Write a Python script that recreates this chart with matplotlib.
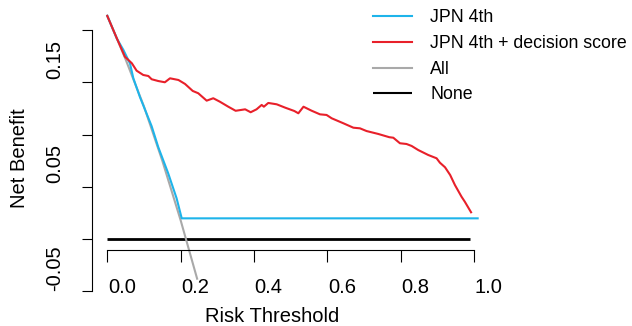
import matplotlib
matplotlib.use("Agg")
import matplotlib.pyplot as plt
import numpy as np

plt.rcParams['font.family'] = ['Liberation Sans', 'DejaVu Sans']

# decision curve values
thr_jpn = [0.0, 0.026, 0.044, 0.062, 0.071, 0.089, 0.121, 0.139, 0.166, 0.189, 0.203, 1.01]
nb_jpn = [0.2136, 0.192, 0.181, 0.168, 0.154, 0.136, 0.108, 0.088, 0.063, 0.039, 0.0198, 0.0198]

thr_ds = [0.0, 0.026, 0.048, 0.067, 0.080, 0.098, 0.112, 0.121, 0.139, 0.157, 0.171, 0.194,
          0.212, 0.233, 0.248, 0.271, 0.289, 0.307, 0.330, 0.350, 0.376, 0.391, 0.407, 0.421,
          0.427, 0.439, 0.462, 0.485, 0.510, 0.521, 0.535, 0.557, 0.580, 0.598, 0.612, 0.644,
          0.671, 0.689, 0.707, 0.739, 0.769, 0.780, 0.798, 0.816, 0.830, 0.848, 0.875, 0.898,
          0.907, 0.921, 0.935, 0.948, 0.966, 0.975, 0.992]
nb_ds = [0.2136, 0.1922, 0.1746, 0.1683, 0.1612, 0.1571, 0.1561, 0.1530, 0.1513, 0.1501, 0.1539, 0.1523,
         0.1485, 0.1418, 0.1396, 0.1325, 0.1348, 0.1315, 0.1267, 0.1228, 0.1242, 0.1214, 0.1242, 0.1284,
         0.1267, 0.1303, 0.1290, 0.1258, 0.1226, 0.1204, 0.1267, 0.1229, 0.1194, 0.1188, 0.1156, 0.1108,
         0.1066, 0.1060, 0.1034, 0.1006, 0.0975, 0.0970, 0.0917, 0.0910, 0.0891, 0.0852, 0.0805, 0.0773,
         0.0731, 0.0687, 0.0613, 0.0517, 0.0405, 0.0357, 0.0256]

thr_all = [0.0, 0.05, 0.10, 0.15, 0.20, 0.245]
nb_all = [0.214, 0.172, 0.127, 0.075, 0.018, -0.038]

thr_none = [0.0, 0.99]
nb_none = [0.0, 0.0]

labels = ['JPN 4th', 'JPN 4th + decision score', 'All', 'None']
x_ticks = [0.0, 0.2, 0.4, 0.6, 0.8, 1.0]
y_ticks = [-0.05, 0.0, 0.05, 0.10, 0.15, 0.20]
y_labels = ['-0.05', '0.05', '0.15']
y_label_vals = [-0.05, 0.05, 0.15]

W, H = 632, 326
fig = plt.figure(figsize=(W / 100, H / 100), dpi=100)
# axes box in pixels: left 80, right 500, top 5, bottom 300
ax = fig.add_axes([80 / W, (H - 300) / H, 420 / W, 295 / H])
ax.set_xlim(-0.0744, 1.0709)
ax.set_ylim(-0.0584, 0.2241)

ax.plot(thr_none, nb_none, color='black', lw=2.0, solid_capstyle='butt', label=labels[3])
ax.plot(thr_all, nb_all, color='#A9A9A9', lw=1.5, label=labels[2])
ax.plot(thr_jpn, nb_jpn, color='#1EB4EA', lw=1.5, label=labels[0])
ax.plot(thr_ds, nb_ds, color='#E8202A', lw=1.5, label=labels[1])

for s in ['top', 'right']:
    ax.spines[s].set_visible(False)
ax.spines['left'].set_position(('data', -0.0417))
ax.spines['left'].set_bounds(-0.05, 0.20)
ax.spines['bottom'].set_position(('data', -0.0105))
ax.spines['bottom'].set_bounds(0.0, 1.0)
ax.spines['left'].set_linewidth(0.8)
ax.spines['bottom'].set_linewidth(0.8)

# tick marks as minor ticks, labels as major ticks (labels sit off the marks)
ax.set_xticks(x_ticks, minor=True)
ax.set_xticks([v + 0.04 for v in x_ticks])
ax.set_xticklabels(['%.1f' % v for v in x_ticks])
ax.set_yticks(y_ticks, minor=True)
ax.set_yticks([v + 0.022 for v in y_label_vals])
ax.set_yticklabels(y_labels, rotation=90, va='center')
ax.tick_params(which='minor', length=8.5, width=0.8, direction='out')
ax.tick_params(axis='y', which='minor', length=7.2)
ax.tick_params(which='major', length=0, labelsize=14.5)
ax.tick_params(axis='x', which='major', pad=20.5)
ax.tick_params(axis='y', which='major', pad=20)

ax.text((20 - 80) / 420, (300 - 158) / 295, 'Net Benefit', transform=ax.transAxes,
        rotation=90, ha='center', va='center', fontsize=14.5)
ax.text((272 - 80) / 420, (300 - 316) / 295, 'Risk Threshold', transform=ax.transAxes,
        ha='center', va='center', fontsize=14.5)

h, l = ax.get_legend_handles_labels()
order = [2, 3, 1, 0]
leg = fig.legend([h[i] for i in order], [l[i] for i in order], loc='upper left',
                 bbox_to_anchor=(368 / W, 1 - 4 / H), frameon=False, fontsize=12.8,
                 handlelength=2.2, handletextpad=1.0, labelspacing=0.49,
                 borderaxespad=0.0, borderpad=0.3)
for ln in leg.get_lines():
    ln.set_linewidth(1.5)

fig.savefig('out.png', dpi=100)
